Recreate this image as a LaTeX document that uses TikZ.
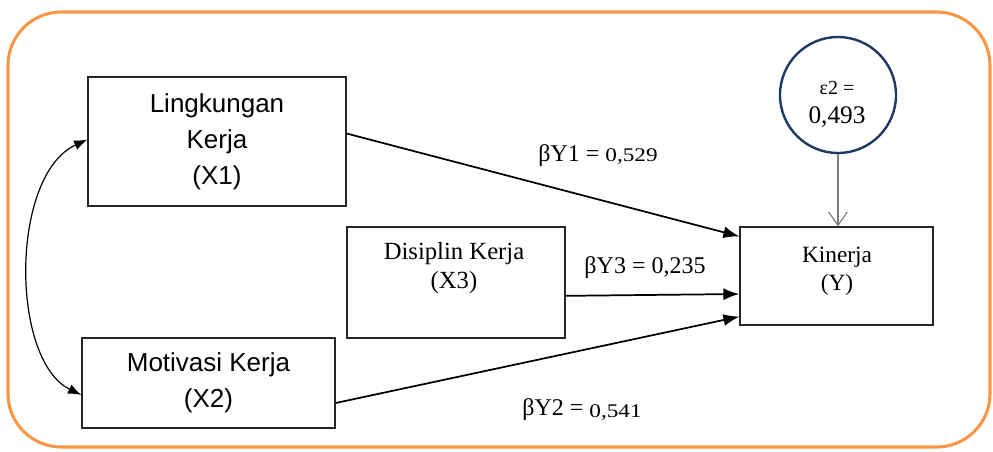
\documentclass[tikz,border=0pt]{standalone}
\usepackage{fontspec}
\setmainfont{Liberation Serif}
\newfontfamily\arialf{Liberation Sans}
\usetikzlibrary{arrows.meta,calc}
\definecolor{frameorange}{HTML}{F79646}
\definecolor{navyline}{HTML}{1F3864}
\definecolor{greyline}{HTML}{7F7F7F}
\newcommand{\smallnum}[1]{\scalebox{1.2}[1]{\fontsize{14.5}{15}\selectfont #1}}
\begin{document}
\begin{tikzpicture}[x=0.75pt,y=-0.75pt,
  sbox/.style={draw=black!85, line width=0.9pt, inner sep=0pt, align=center,
               font=\arialf\fontsize{19.5}{27}\selectfont},
  tbox/.style={draw=black!85, line width=0.9pt, inner sep=0pt},
  ttext/.style={inner sep=0pt, align=center, font=\fontsize{18.5}{22}\selectfont},
  lbl/.style={inner sep=0pt, font=\fontsize{18}{20}\selectfont},
  arr/.style={line width=1.3pt, -{Latex[length=12pt,width=9pt]}},
  dbl/.style={line width=0.9pt, {Latex[length=10pt,width=7.5pt]}-{Latex[length=10pt,width=7.5pt]}},
  garr/.style={draw=greyline, line width=0.9pt, -{Straight Barb[length=10pt,width=14pt]}}
]
\useasboundingbox (0,0) rectangle (993,451);
\draw[frameorange, line width=2.3pt, rounded corners=40pt] (8,12) rectangle (990,447);

\node[sbox, minimum width=193.5pt, minimum height=96.75pt] (x1) at (217,141.5) {Lingkungan\\Kerja\\(X1)};
\node[sbox, minimum width=189.75pt, minimum height=67.5pt] (x2) at (208.5,383) {Motivasi Kerja\\(X2)};
\node[tbox, minimum width=163.5pt, minimum height=83.25pt] (x3) at (456,282.5) {};
\node[ttext] (x3t) at (454,268) {Disiplin Kerja\\(X3)};
\node[tbox, minimum width=144.75pt, minimum height=73.5pt] (ky) at (836.5,276) {};
\node[ttext, font=\fontsize{17.5}{21}\selectfont] (kyt) at (837,271) {Kinerja\\(Y)};
\node[circle, draw=navyline, line width=1.8pt, minimum size=87pt, inner sep=0pt] (eps) at (838,95) {};
\node[inner sep=0pt, align=center] (epst) at (837,104)
  {{\fontsize{15}{15}\selectfont ε2 =}\\[8pt]{\fontsize{19}{19}\selectfont 0,493}};

\draw[arr] ([yshift=6pt]x1.east) -- ([yshift=-7.5pt]ky.north west);
\draw[arr] ([yshift=-10pt]x3.east) -- ([yshift=-13.5pt]ky.west);
\draw[arr] ([yshift=-15pt]x2.east) -- ([yshift=6.75pt]ky.south west);
\draw[dbl] ([yshift=1.5pt]x1.west) .. controls (10,175) and (10,360) .. ([yshift=-9pt]x2.west);
\draw[garr] (eps.south) -- (eps.south |- ky.north);

\node[lbl] (l1) at (598,156) {βY1 = \smallnum{0,529}};
\node[lbl] (l3) at (645,268) {βY3 = 0,235};
\node[lbl] (l2) at (582,410) {βY2 = \raisebox{-1pt}{\smallnum{0,541}}};
\end{tikzpicture}
\end{document}
